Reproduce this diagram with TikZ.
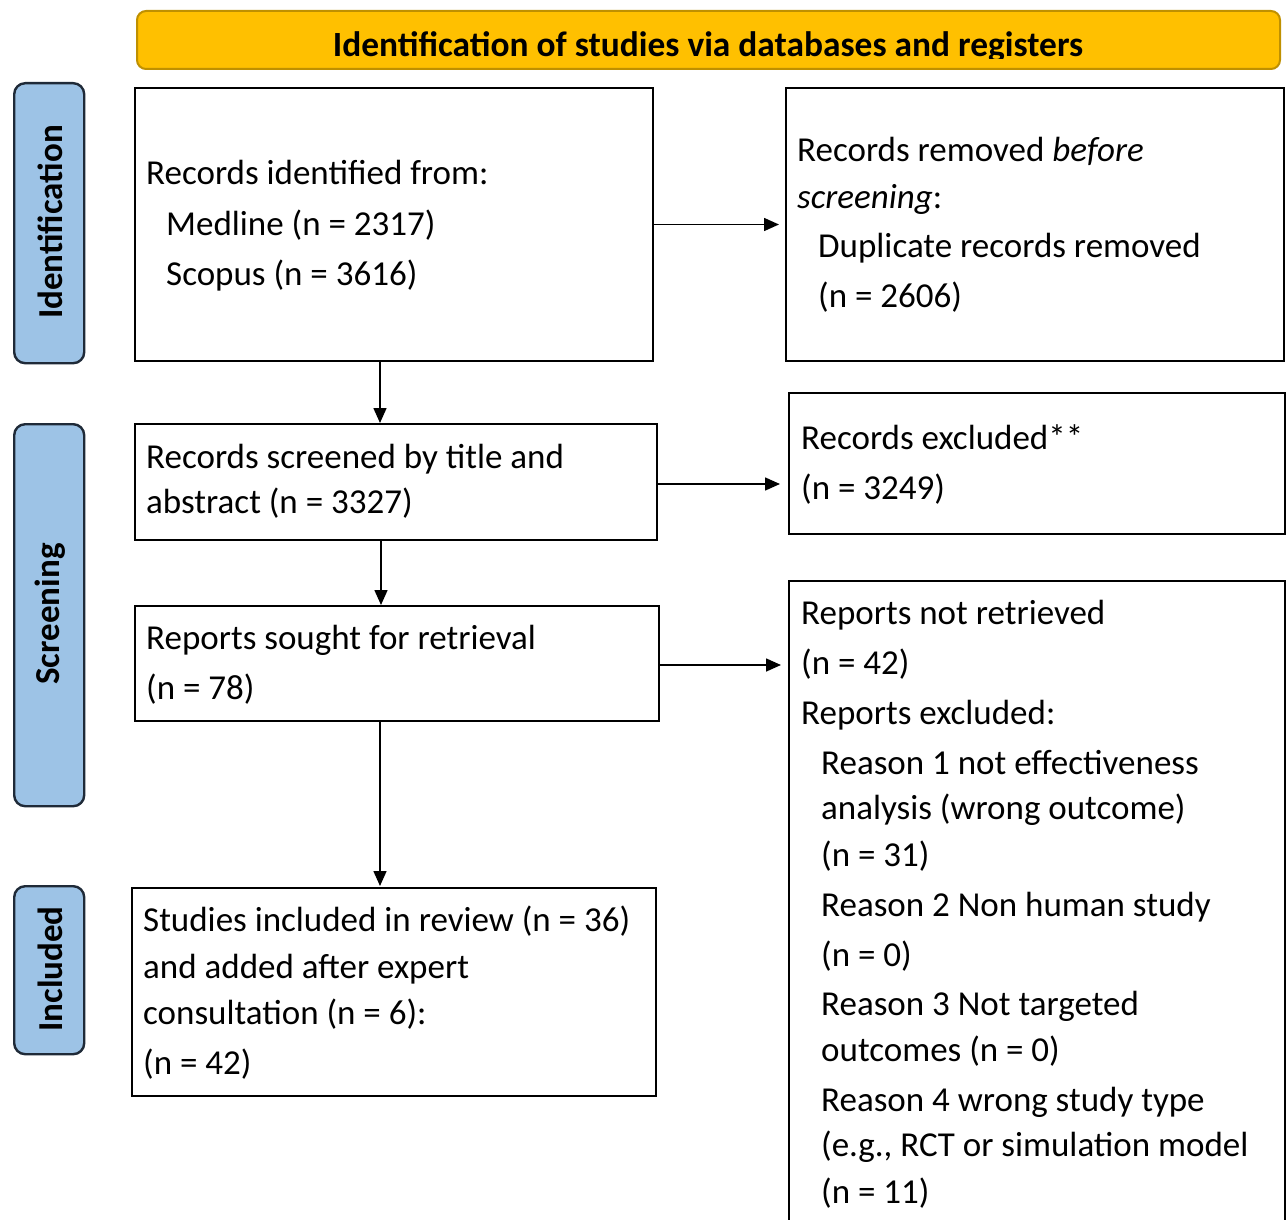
\documentclass[tikz,border=0pt]{standalone}
\usepackage{fontspec}
\setmainfont{Carlito}
\usetikzlibrary{arrows.meta}
\definecolor{hdrfill}{HTML}{FFC000}
\definecolor{hdrdraw}{HTML}{BF9000}
\definecolor{sidefill}{HTML}{9DC3E6}
\definecolor{sidedraw}{HTML}{1F2A38}
\tikzset{
  box/.style={draw=black, line width=2pt, fill=white, rectangle, inner sep=0pt, anchor=north west},
  sidebox/.style={draw=sidedraw, line width=2.4pt, fill=sidefill, rounded corners=11pt, rectangle, inner sep=0pt, anchor=north west},
  sidetext/.style={rotate=90, font=\fontsize{35}{42}\selectfont\bfseries, inner sep=0pt},
  txt/.style={anchor=base west, inner sep=0pt, font=\fontsize{35}{42}\selectfont},
  arr/.style={draw=black, line width=1.6pt, -{Triangle[length=15pt,width=13pt]}}
}
\begin{document}
\begin{tikzpicture}[x=1pt, y=-1pt]
\useasboundingbox (0,0) rectangle (1286,1220);
\clip (0,0) rectangle (1286,1220);
\fill[white] (0,0) rectangle (1286,1220);

% header
\node[draw=hdrdraw, line width=2pt, fill=hdrfill, rounded corners=9pt, minimum width=1143pt, minimum height=58pt, anchor=north west, inner sep=0pt] (hdr) at (136,10) {};
\begin{scope}
\clip (136,10) rectangle (1279,59);
\node[anchor=base, inner sep=0pt, font=\fontsize{35.4}{42}\selectfont\bfseries] (hdrt) at (708,57) {Identification of studies via databases and registers};
\end{scope}

% side labels
\node[sidebox, minimum width=70pt, minimum height=280pt] (sid) at (13,82) {};
\node[sidetext] (sidt) at (50,222) {Identification};
\node[sidebox, minimum width=70pt, minimum height=382pt] (sscr) at (13,423) {};
\node[sidetext] (sscrt) at (50,614) {Screening};
\node[sidebox, minimum width=70pt, minimum height=168pt] (sinc) at (13,885) {};
\node[sidetext] (sinct) at (50,969) {Included};

% boxes
\node[box, minimum width=518pt, minimum height=273pt] (A) at (134,87) {};
\node[box, minimum width=498pt, minimum height=273pt] (B) at (785,87) {};
\node[box, minimum width=522pt, minimum height=116pt] (C) at (134,423) {};
\node[box, minimum width=496pt, minimum height=141pt] (D) at (788,392) {};
\node[box, minimum width=524pt, minimum height=115pt] (E) at (134,605) {};
\node[box, minimum width=496pt, minimum height=700pt] (F) at (788,580) {};
\node[box, minimum width=524pt, minimum height=208pt] (G) at (131,887) {};

% texts A
\node[txt] (a1) at (146,185) {Records identified from:};
\node[txt] (a2) at (166,235) {Medline (n = 2317)};
\node[txt] (a3) at (166,285) {Scopus (n = 3616)};
% texts B
\node[txt] (b1) at (797,162) {Records removed \textit{before}};
\node[txt] (b2) at (797,208) {\textit{screening}:};
\node[txt] (b3) at (818,257) {Duplicate records removed};
\node[txt] (b4) at (818,307) {(n = 2606)};
% texts C
\node[txt] (c1) at (146,468) {Records screened by title and};
\node[txt] (c2) at (146,513) {abstract (n = 3327)};
% texts D
\node[txt] (d1) at (801,449) {Records excluded**};
\node[txt] (d2) at (801,499) {(n = 3249)};
% texts E
\node[txt] (e1) at (146,649) {Reports sought for retrieval};
\node[txt] (e2) at (146,699) {(n = 78)};
% texts F
\node[txt] (f1) at (801,624) {Reports not retrieved};
\node[txt] (f2) at (801,674) {(n = 42)};
\node[txt] (f3) at (801,724) {Reports excluded:};
\node[txt] (f4) at (821,774) {Reason 1 not effectiveness};
\node[txt] (f5) at (821,819) {analysis (wrong outcome)};
\node[txt] (f6) at (821,866) {(n = 31)};
\node[txt] (f7) at (821,916) {Reason 2 Non human study};
\node[txt] (f8) at (821,966) {(n = 0)};
\node[txt] (f9) at (821,1015) {Reason 3 Not targeted};
\node[txt] (f10) at (821,1061) {outcomes (n = 0)};
\node[txt] (f11) at (821,1111) {Reason 4 wrong study type};
\node[txt] (f12) at (821,1156) {(e.g., RCT or simulation model};
\node[txt] (f13) at (821,1203) {(n = 11)};
% texts G
\node[txt] (g1) at (143,931) {Studies included in review (n = 36)};
\node[txt] (g2) at (143,978) {and added after expert};
\node[txt] (g3) at (143,1024) {consultation (n = 6):};
\node[txt] (g4) at (143,1074) {(n = 42)};

% connectors
\coordinate (vx) at (380,0);
\coordinate (vx2) at (381,0);
\coordinate (hy1) at (0,484);
\coordinate (hy2) at (0,665);
\draw[arr, shorten >=6pt] (A.east) -- (B.west);
\draw[arr] (A.south -| vx) -- (C.north -| vx);
\draw[arr, shorten >=8pt] (C.east |- hy1) -- (D.west |- hy1);
\draw[arr] (C.south -| vx2) -- (E.north -| vx2);
\draw[arr, shorten >=7pt] (E.east |- hy2) -- (F.west |- hy2);
\draw[arr, shorten >=1pt] (E.south -| vx) -- (G.north -| vx);
\end{tikzpicture}
\end{document}
